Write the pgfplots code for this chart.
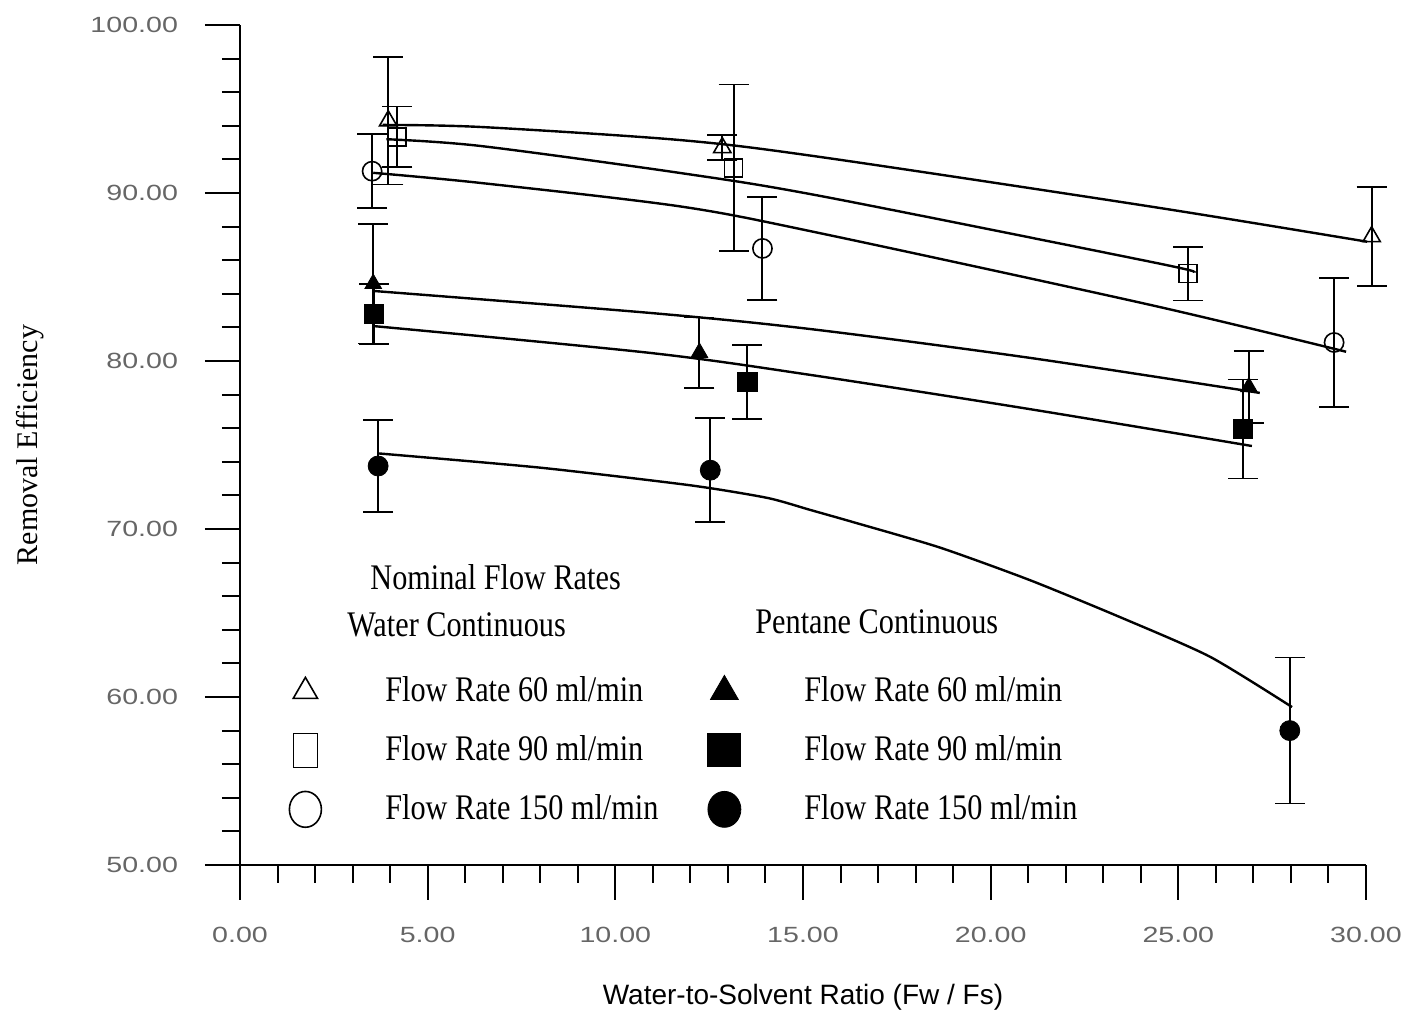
\documentclass[border=0pt]{standalone}
\usepackage{fontspec}
\setmainfont{Liberation Serif}
\newfontfamily\tickfont[FakeStretch=1.3]{Liberation Sans}
\newfontfamily\legfont[FakeStretch=0.84]{Liberation Serif}
\newfontfamily\xlabfont{Liberation Sans}
\usepackage{pgfplots}
\pgfplotsset{compat=1.18}
\usepackage{pgfplotstable}

% Water continuous (open symbols)
\pgfplotstableread{
x y e
3.95 94.3 3.8
12.85 92.7 0.75
30.15 87.4 2.95
}\wcA
\pgfplotstableread{
x y e
4.19 93.35 1.8
13.15 91.5 4.95
25.26 85.2 1.6
}\wcB
\pgfplotstableread{
x y e
3.52 91.3 2.2
13.92 86.7 3.07
29.15 81.1 3.85
}\wcC
% Pentane continuous (filled symbols)
\pgfplotstableread{
x y e
3.55 84.6 3.55
12.24 80.5 2.1
26.88 78.45 2.15
}\pcA
\pgfplotstableread{
x y e
3.57 82.8 1.8
13.52 78.75 2.2
26.72 75.95 2.95
}\pcB
\pgfplotstableread{
x y e
3.68 73.75 2.75
12.53 73.5 3.1
27.97 58.0 4.35
}\pcC

\begin{document}
\begin{tikzpicture}
\begin{axis}[
  scale only axis, width=563pt, height=420pt,
  xmin=0, xmax=30, ymin=50, ymax=100,
  clip=false,
  axis lines*=left,
  axis line style={line width=1.1pt},
  xtick={0,5,...,30}, ytick={50,60,...,100},
  minor x tick num=4, minor y tick num=4,
  tick align=outside,
  major tick length=17.5pt, minor tick length=9pt,
  tick style={line width=1pt, black},
  /pgf/number format/fixed, /pgf/number format/fixed zerofill,
  /pgf/number format/precision=2, /pgf/number format/assume math mode=true,
  ticklabel style={font=\tickfont\fontsize{11}{13}\selectfont, text=black!60},
  yticklabel style={xshift=-10pt},
  xticklabel style={yshift=-10pt},
  xlabel={Water-to-Solvent Ratio (Fw / Fs)},
  ylabel={Removal Efficiency},
  xlabel style={at={(rel axis cs:0.5,-0.157)}, anchor=center, font=\xlabfont\fontsize{14}{16}\selectfont},
  ylabel style={at={(rel axis cs:-0.1865,0.5)}, anchor=center, font=\fontsize{15}{17}\selectfont},
  legend columns=2,
  legend cell align=left,
  legend image code/.code={\path[draw=none, fill=none] (0pt,-8pt) rectangle (68pt,8pt); \draw[#1] plot coordinates {(28pt,0pt)};},
  legend style={at={(0.008,0.2286)}, anchor=north west, draw=none, fill=none,
    inner sep=0pt, row sep=11.5pt, column sep=0pt,
    nodes={inner sep=0pt, text height=14pt, text depth=4pt},
    font=\legfont\fontsize{18}{20}\selectfont,
    /tikz/every even column/.append style={column sep=5pt}},
  every axis plot/.append style={forget plot},
  ebar/.style={error bars/.cd, y dir=both, y explicit,
    error bar style={line width=1pt, black},
    error mark options={rotate=90, mark size=7.5pt, line width=0.8pt, black}},
]
\coordinate (O) at (rel axis cs:0,0);

% fitted curves
\addplot[black, line width=1.2pt, smooth, tension=0.5] coordinates {
(3.8,94.05) (6.4,93.93) (11.73,93.15) (15.47,92.14) (24.27,89.19) (30.03,87.1)};
\addplot[black, line width=1.2pt, smooth, tension=0.5] coordinates {
(3.9,93.2) (6.4,92.8) (11.73,91.19) (15.47,89.82) (24.27,85.9) (25.39,85.32)};
\addplot[black, line width=1.2pt, smooth, tension=0.5] coordinates {
(3.55,91.2) (6.4,90.6) (11.73,89.2) (15.47,87.6) (24.27,83.33) (29.47,80.55)};
\addplot[black, line width=1.2pt, smooth, tension=0.5] coordinates {
(3.55,84.17) (10.93,82.86) (15.2,81.9) (21,80.2) (27.17,78.1)};
\addplot[black, line width=1.2pt, smooth, tension=0.5] coordinates {
(3.55,82.08) (10.93,80.48) (15.2,79.17) (21,77.15) (26.96,74.94)};
\addplot[black, line width=1.2pt, smooth, tension=0.4] coordinates {
(3.68,74.5) (8.0,73.65) (12.0,72.6) (14.05,71.85) (15.2,71.13) (16.35,70.4) (18.64,68.9)
(21.04,66.96) (23.44,64.76) (25.84,62.4) (28.03,59.4)};

% data points with error bars
\addplot[black, only marks, mark=triangle, mark size=5pt, mark options={line width=0.8pt}, ebar]
  table[x=x, y=y, y error=e] {\wcA};
\addplot[black, only marks, mark=square, mark size=4.5pt, mark options={line width=0.8pt}, ebar]
  table[x=x, y=y, y error=e] {\wcB};
\addplot[black, only marks, mark=o, mark size=4.8pt, mark options={line width=0.8pt}, ebar]
  table[x=x, y=y, y error=e] {\wcC};
\addplot[black, only marks, mark=triangle*, mark size=4.8pt, ebar]
  table[x=x, y=y, y error=e] {\pcA};
\addplot[black, only marks, mark=square*, mark size=4.8pt, ebar]
  table[x=x, y=y, y error=e] {\pcB};
\addplot[black, only marks, mark=*, mark size=5pt, ebar]
  table[x=x, y=y, y error=e] {\pcC};

% legend
\addlegendimage{black, mark=triangle, mark size=7pt, mark options={line width=0.8pt}}
\addlegendentry{Flow Rate 60 ml/min}
\addlegendimage{black, mark=triangle*, mark size=8pt}
\addlegendentry{Flow Rate 60 ml/min}
\addlegendimage{black, mark=square, mark size=6pt, mark options={yscale=1.42, line width=0.8pt}}
\addlegendentry{Flow Rate 90 ml/min}
\addlegendimage{black, mark=square*, mark size=8.25pt}
\addlegendentry{Flow Rate 90 ml/min}
\addlegendimage{black, mark=o, mark size=8pt, mark options={yscale=1.12, line width=0.8pt}}
\addlegendentry{Flow Rate 150 ml/min}
\addlegendimage{black, mark=*, mark size=8.25pt, mark options={yscale=1.09}}
\addlegendentry{Flow Rate 150 ml/min}

\node[anchor=west, inner sep=0pt, font=\legfont\fontsize{18}{20}\selectfont] at (rel axis cs:0.1155,0.343) {Nominal Flow Rates};
\node[anchor=west, inner sep=0pt, font=\legfont\fontsize{18}{20}\selectfont] at (rel axis cs:0.095,0.2857) {Water Continuous};
\node[anchor=west, inner sep=0pt, font=\legfont\fontsize{18}{20}\selectfont] at (rel axis cs:0.4574,0.289) {Pentane Continuous};
\end{axis}
\pgfresetboundingbox
\path[use as bounding box] ([shift={(-120pt,-75pt)}]O) rectangle ([shift={(582pt,432.5pt)}]O);
\end{tikzpicture}
\end{document}
